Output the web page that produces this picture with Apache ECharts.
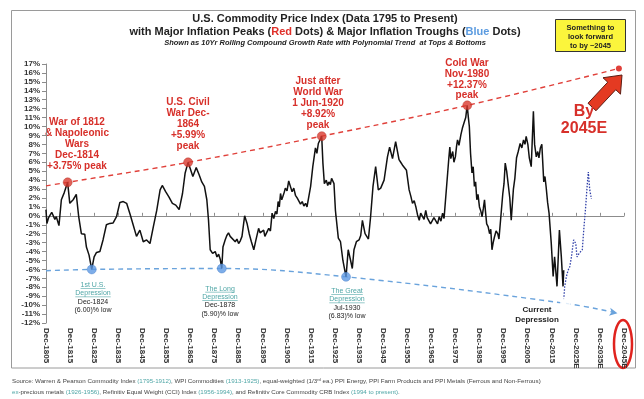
<!DOCTYPE html>
<html>
<head>
<meta charset="utf-8">
<script src="https://cdn.jsdelivr.net/npm/echarts@6/dist/echarts.min.js"></script>
<style>
  html, body { margin: 0; padding: 0; background: #fff; }
  #main { width: 644px; height: 399px; }
</style>
</head>
<body>
<div id="main"></div>
<script>
  // x positions are years; the axis counts from Dec-1805
  const BASE = 1805.92

  // 10yr rolling compound growth rate of the commodity index (%)
  const cagrYears = [
    1805.9, 1806.3, 1807.0, 1807.6, 1808.3, 1809.0, 1809.6, 1810.2, 1811.3, 1812.3,
    1813.5, 1814.9, 1815.8, 1816.5, 1817.2, 1818.5, 1819.5, 1820.6, 1821.3, 1822.0,
    1822.7, 1823.8, 1824.9, 1825.9, 1826.9, 1828.3, 1829.6, 1831.0, 1832.4, 1833.8,
    1835.2, 1836.6, 1837.3, 1838.0, 1839.4, 1840.8, 1842.1, 1843.5, 1844.9, 1846.3,
    1847.7, 1849.1, 1850.5, 1851.9, 1853.3, 1854.2, 1855.6, 1857.0, 1858.4, 1859.8,
    1861.2, 1862.6, 1863.7, 1864.9, 1865.8, 1866.9, 1868.3, 1869.5, 1870.6, 1871.7,
    1872.7, 1873.4, 1874.1, 1875.1, 1876.2, 1876.9, 1877.6, 1878.3, 1878.9, 1879.4,
    1880.3, 1881.0, 1881.7, 1882.4, 1883.1, 1884.5, 1885.2, 1885.9, 1886.6, 1887.3,
    1888.4, 1889.4, 1890.3, 1891.2, 1892.2, 1893.1, 1894.2, 1894.8, 1895.3, 1896.3,
    1896.8, 1897.3, 1898.4, 1899.1, 1899.8, 1900.5, 1901.2, 1901.8, 1902.3, 1902.8,
    1903.3, 1903.8, 1904.2, 1904.8, 1905.3, 1906.0, 1906.7, 1907.4, 1908.1, 1908.8,
    1909.5, 1910.2, 1910.9, 1911.6, 1912.3, 1913.0, 1913.7, 1914.3, 1914.8, 1915.8,
    1916.7, 1917.8, 1918.4, 1919.0, 1920.4, 1920.9, 1921.5, 1922.3, 1922.9, 1923.4,
    1924.0, 1924.5, 1925.5, 1926.1, 1927.3, 1928.2, 1929.2, 1930.5, 1931.4, 1932.4,
    1933.1, 1933.8, 1934.8, 1935.9, 1936.6, 1937.3, 1938.4, 1939.8, 1940.7, 1941.7,
    1942.8, 1943.9, 1944.9, 1946.3, 1947.7, 1948.6, 1949.8, 1951.1, 1952.5, 1953.2,
    1953.9, 1955.6, 1956.7, 1957.4, 1958.1, 1958.8, 1959.5, 1960.2, 1960.9, 1961.5,
    1962.3, 1962.9, 1963.6, 1964.2, 1965.0, 1965.6, 1966.4, 1967.0, 1967.8, 1968.5,
    1969.2, 1969.9, 1970.6, 1971.2, 1971.7, 1972.7, 1973.2, 1973.6, 1974.0, 1974.8,
    1975.3, 1975.9, 1976.4, 1976.8, 1977.4, 1978.2, 1978.8, 1979.6, 1980.2, 1980.8,
    1981.3, 1981.7, 1982.2, 1982.8, 1983.3, 1983.8, 1984.3, 1984.8, 1985.3, 1985.9,
    1986.5, 1987.0, 1987.5, 1988.0, 1988.4, 1988.9, 1989.5, 1990.1, 1990.6, 1991.1,
    1991.6, 1992.1, 1992.8, 1993.5, 1994.0, 1994.5, 1995.6, 1996.1, 1996.6, 1997.2,
    1997.8, 1998.5, 1999.1, 2000.0, 2000.6, 2001.3, 2002.0, 2002.8, 2003.5, 2004.2,
    2004.8, 2005.3, 2006.0, 2006.6, 2007.4, 2008.3, 2008.8, 2009.5, 2010.1, 2010.6,
    2011.2, 2011.8, 2012.6, 2013.1, 2013.6, 2014.2, 2014.8, 2015.7, 2016.5, 2017.1,
    2017.6, 2018.1, 2019.1, 2019.9, 2020.6, 2020.9
  ]
  const cagrValues = [
    0.7, -0.85, -0.2, -0.3, 0.4, 0.3, -0.4, -0.1, -1.1, 1.8,
    2.6, 3.75, 1.4, 1.2, 1.8, 2.4, -0.1, -2.0, -1.9, -2.05,
    -3.5, -4.4, -6.0, -4.6, -4.1, -4.0, -2.7, -1.0, -0.85, -0.8,
    -0.1, 1.5, 1.3, 1.6, 1.4, 0.2, -1.0, -2.3, -1.6, -2.9,
    -2.7, -3.1, -1.2, 0.6, 2.9, 3.4, 2.7, 2.1, 1.4, 1.2,
    0.7, 2.5, 4.8, 5.99, 5.3, 4.4, 5.4, 4.6, 3.8, 3.3,
    1.8, -0.5, -3.8, -4.2, -4.0, -4.6, -4.3, -4.9, -5.9, -3.5,
    -2.7, -2.2, -1.9, -2.3, -2.5, -2.9, -2.6, -3.1, -2.8, -2.3,
    0.0, -0.85, -2.0, -2.9, -3.8, -2.7, -1.4, -1.9, -2.0, -1.6,
    -2.3, -2.2, -1.4, -1.7, 0.3, -0.3, 0.5, 0.2, 1.6, 1.0,
    2.5, 1.8, 2.1, 2.6, 3.1, 2.8, 3.9, 3.3, 2.7, 3.1,
    2.3, 2.0, 1.8, 1.3, 1.6, 1.1, 1.4, 1.0, 1.2, 3.3,
    5.5, 7.6, 7.0, 8.1, 8.92, 5.9, 3.6, 4.0, 3.4, 3.8,
    3.5, 4.2, 3.6, 0.6, -2.5, -2.9, -5.0, -6.83, -3.8, -5.0,
    -5.9, -3.8, -2.9, -2.7, -2.2, -0.5, -2.0, -2.6, -0.1, 3.3,
    5.5, 2.9, 3.1, 4.0, 6.6, 7.7, 6.4, 8.3, 6.3, 6.0,
    5.7, 5.1, 2.9, 2.2, 1.4, 1.7, 1.0, 0.1, -0.5, 0.3,
    0.1, -0.4, 0.6, -0.2, -0.1, -0.9, -0.7, -0.2, -0.3, -0.9,
    -0.1, -0.6, 0.3, -0.3, -0.5, 4.8, 6.5, 7.7, 6.4, 7.2,
    6.0, 6.6, 7.8, 8.5, 7.9, 9.1, 9.8, 10.5, 11.0, 12.37,
    11.0, 10.0, 7.0, 4.8, 5.5, 3.3, 3.8, 1.8, 2.4, 1.0,
    0.5, -0.1, 0.8, 1.8, 0.5, -0.9, -1.2, -2.0, -1.5, -3.8,
    -3.0, -2.4, -1.7, -2.0, -2.6, -2.4, 2.5, 3.6, 5.9, 5.0,
    4.8, 2.0, -0.5, 3.0, 4.2, 6.5, 7.2, 8.1, 7.6, 8.5,
    8.0, 8.9, 8.0, 6.5, 5.5, 11.7, 8.0, 6.6, 7.2, 6.5,
    7.6, 8.0, 3.8, 4.4, 3.2, 1.5, 0.3, -3.0, -6.8, -4.6,
    -6.2, -7.9, -1.6, -4.6, -7.9, -6.1
  ]

  // projected path (blue dotted)
  const forecastYears = [
    2020.9, 2021.3, 2022.0, 2022.7, 2023.4, 2024.1, 2025.0, 2025.9, 2026.4, 2027.3,
    2028.6, 2029.2, 2030.0, 2030.6, 2031.1, 2031.7, 2032.4
  ]
  const forecastValues = [
    -9.4, -7.9, -6.8, -6.1, -5.7, -4.6, -2.7, -3.1, -4.6, -4.2,
    -3.8, -1.6, 1.0, 3.3, 4.9, 2.9, 1.9
  ]

  // major inflation peaks (red) and troughs (blue)
  const peakYears = [1814.92, 1864.92, 1920.42, 1980.83]
  const peakValues = [3.75, 5.99, 8.92, 12.37]
  const troughYears = [1824.92, 1878.92, 1930.5]
  const troughValues = [-6.00, -5.90, -6.83]
  const currentTroughYear = [2021.6]
  const currentTroughValue = [-9.8]

  // polynomial trends through tops and bottoms
  const peakTrendYears = [1805.92, 1814.92, 1864.92, 1920.42, 1980.83, 2043.8]
  const peakTrendValues = [3.36, 3.75, 5.99, 8.92, 12.37, 16.5]
  const troughTrendYears = [1805.92, 1824.92, 1878.92, 1930.5, 2021.6, 2043.2]
  const troughTrendValues = [-6.15, -6.00, -5.90, -6.83, -9.8, -10.9]

  // axis range, ticks every 10 years from Dec-1805
  const yMin = -12
  const yMax = 17
  const xSpan = 240

  const pts = (xs, ys) => xs.map((x, i) => [x - BASE, ys[i]])

  const FONT = '"Liberation Sans", Arial, sans-serif'
  const RED = '#d7302a'
  const TEAL = '#4fa6a6'

  const measure = document.createElement('canvas').getContext('2d')
  function textWidth (str, font) {
    measure.font = font
    return measure.measureText(str).width
  }

  function lines (x, y0, lh, rows, size, weight, fill, align) {
    return rows.map((t, i) => ({
      type: 'text',
      silent: true,
      style: {
        text: t, x: x, y: y0 + i * lh,
        font: weight + ' ' + size + 'px ' + FONT,
        fill: fill,
        align: align || 'center', textAlign: align || 'center',
        verticalAlign: 'middle', textVerticalAlign: 'middle'
      }
    }))
  }

  function underlined (x, y0, lh, rows, size) {
    const out = lines(x, y0, lh, rows, size, 'normal', TEAL)
    rows.forEach((t, i) => {
      const w = textWidth(t, 'normal ' + size + 'px ' + FONT)
      out.push({
        type: 'line', silent: true,
        shape: { x1: x - w / 2, y1: y0 + i * lh + size * 0.5, x2: x + w / 2, y2: y0 + i * lh + size * 0.5 },
        style: { stroke: TEAL, lineWidth: 0.6 }
      })
    })
    return out
  }

  function troughLabel (x, y0, name1, name2, date, low) {
    return underlined(x, y0, 8.3, [name1, name2], 7)
      .concat(lines(x, y0 + 16.6, 8.3, [date, low], 7, 'normal', '#222'))
  }

  function blockArrow (tail, tip, shaftHalf, headHalf, headLen) {
    const dx = tip[0] - tail[0], dy = tip[1] - tail[1]
    const len = Math.sqrt(dx * dx + dy * dy)
    const ux = dx / len, uy = dy / len
    const px = -uy, py = ux
    const nx = tip[0] - ux * headLen, ny = tip[1] - uy * headLen
    return [
      [tail[0] + px * shaftHalf, tail[1] + py * shaftHalf],
      [nx + px * shaftHalf, ny + py * shaftHalf],
      [nx + px * headHalf, ny + py * headHalf],
      tip,
      [nx - px * headHalf, ny - py * headHalf],
      [nx - px * shaftHalf, ny - py * shaftHalf],
      [tail[0] - px * shaftHalf, tail[1] - py * shaftHalf]
    ]
  }

  const srcFont = 'normal 6.2px ' + FONT
  const srcRich = {
    n: { fill: '#444', font: srcFont },
    l: { fill: TEAL, font: srcFont },
    s: { fill: '#444', font: 'normal 4px ' + FONT, verticalAlign: 'top' }
  }

  const graphics = [
    {
      type: 'rect', silent: true, z: -10,
      shape: { x: 11.5, y: 10.5, width: 624, height: 357.5 },
      style: { fill: 'none', stroke: '#9a9a9a', lineWidth: 1 }
    },
    ...lines(325, 19, 13, ['U.S. Commodity Price Index (Data 1795 to Present)'], 11, 'bold', '#222'),
    {
      type: 'text', silent: true,
      style: {
        text: '{n|with Major Inflation Peaks (}{r|Red}{n| Dots) & Major Inflation Troughs (}{b|Blue}{n| Dots)}',
        x: 325, y: 32, align: 'center', textAlign: 'center', verticalAlign: 'middle', textVerticalAlign: 'middle',
        font: 'bold 11px ' + FONT,
        rich: {
          n: { fill: '#222', font: 'bold 11px ' + FONT },
          r: { fill: '#e0302a', font: 'bold 11px ' + FONT },
          b: { fill: '#5b9be0', font: 'bold 11px ' + FONT }
        }
      }
    },
    ...lines(325, 43, 10, ['Shown as 10Yr Rolling Compound Growth Rate with Polynomial Trend  at Tops & Bottoms'], 7.5, 'italic bold', '#222'),
    {
      type: 'rect', silent: true,
      shape: { x: 555.5, y: 19.5, width: 70, height: 32 },
      style: { fill: '#fbf53c', stroke: '#333', lineWidth: 1 }
    },
    ...lines(590.5, 27.5, 9, ['Something to', 'look forward', 'to by ~2045'], 7.5, 'bold', '#222'),
    {
      type: 'polygon', silent: true,
      shape: { points: blockArrow([592, 107], [622, 75], 5.5, 12, 15) },
      style: { fill: '#e43a22', stroke: '#5a1d14', lineWidth: 1 }
    },
    ...lines(584, 112, 17, ['By', '2045E'], 16, 'bold', RED),
    {
      type: 'ellipse', silent: true,
      shape: { cx: 623, cy: 344, rx: 9, ry: 24 },
      style: { fill: 'none', stroke: '#e0231e', lineWidth: 2.5 }
    },
    ...lines(77, 122.7, 10.8, ['War of 1812', '& Napoleonic', 'Wars', 'Dec-1814', '+3.75% peak'], 10, 'bold', RED),
    ...lines(188, 102.7, 10.8, ['U.S. Civil', 'War Dec-', '1864', '+5.99%', 'peak'], 10, 'bold', RED),
    ...lines(318, 81.7, 10.8, ['Just after', 'World War', '1 Jun-1920', '+8.92%', 'peak'], 10, 'bold', RED),
    ...lines(467, 63.3, 10.8, ['Cold War', 'Nov-1980', '+12.37%', 'peak'], 10, 'bold', RED),
    ...troughLabel(93, 285, '1st U.S.', 'Depression', 'Dec-1824', '(6.00)% low'),
    ...troughLabel(220, 288.7, 'The Long', 'Depression', 'Dec-1878', '(5.90)% low'),
    ...troughLabel(347, 291, 'The Great', 'Depression', 'Jul-1930', '(6.83)% low'),
    ...lines(537, 310, 9.3, ['Current', 'Depression'], 8, 'bold', '#222'),
    {
      type: 'text', silent: true,
      style: {
        x: 12, y: 381, align: 'left', textAlign: 'left', verticalAlign: 'middle', textVerticalAlign: 'middle',
        font: srcFont,
        text: '{n|Source: Warren & Pearson Commodity Index }{l|(1795-1912)}{n|, WPI Commodities }{l|(1913-1925)}' +
          '{n|, equal-weighted (1/3}{s|rd}{n| ea.) PPI Energy, PPI Farm Products and PPI Metals (Ferrous and Non-Ferrous)}',
        rich: srcRich
      }
    },
    {
      type: 'text', silent: true,
      style: {
        x: 12, y: 392, align: 'left', textAlign: 'left', verticalAlign: 'middle', textVerticalAlign: 'middle',
        font: srcFont,
        text: '{l|ex}{n|-precious metals }{l|(1926-1956)}{n|, Refinitiv Equal Weight (CCI) Index }{l|(1956-1994)}' +
          '{n|, and Refinitiv Core Commodity CRB Index }{l|(1994 to present)}{n|.}',
        rich: srcRich
      }
    }
  ]

  const chart = echarts.init(document.getElementById('main'), null, { renderer: 'canvas' })
  window.addEventListener('resize', function () {
    chart.resize()
  })

  const troughTrend = pts(troughTrendYears, troughTrendValues).map((p, i, arr) =>
    i === arr.length - 1
      ? { value: p, symbol: 'arrow', symbolSize: [6, 8], symbolRotate: -100 }
      : { value: p, symbol: 'none' })
  const peakTrend = pts(peakTrendYears, peakTrendValues).map((p, i, arr) =>
    i === arr.length - 1
      ? { value: p, symbol: 'circle', symbolSize: 6 }
      : { value: p, symbol: 'none' })

  const option = {
    animation: false,
    backgroundColor: '#fff',
    grid: { left: 46, right: 20, top: 64, bottom: 76, containLabel: false },
    xAxis: [
      {
        type: 'value', min: 0, max: xSpan, interval: 10,
        axisLine: { show: false, onZero: false },
        axisTick: { show: false },
        splitLine: { show: false },
        axisLabel: {
          rotate: -90, margin: 5,
          fontFamily: FONT, fontSize: 8, fontWeight: 'bold', color: '#333',
          formatter: function (v) {
            const yr = 1805 + v
            return 'Dec-' + yr + (yr > 2020 ? 'E' : '')
          }
        }
      },
      {
        type: 'value', min: 0, max: xSpan, interval: 10,
        axisLine: { show: true, onZero: true, lineStyle: { color: '#8c8c8c', width: 1 } },
        axisTick: { show: true, length: 3, lineStyle: { color: '#8c8c8c' } },
        axisLabel: { show: false },
        splitLine: { show: false }
      }
    ],
    yAxis: {
      type: 'value', min: yMin, max: yMax, interval: 1,
      axisLine: { show: true, lineStyle: { color: '#8c8c8c' } },
      axisTick: { show: true, length: 4, lineStyle: { color: '#8c8c8c' } },
      splitLine: { show: false },
      axisLabel: {
        margin: 6, fontFamily: FONT, fontSize: 8, fontWeight: 'bold', color: '#333',
        formatter: '{value}%'
      }
    },
    series: [
      {
        name: 'Peak trend', type: 'line', smooth: 0.4, z: 2,
        data: peakTrend,
        showSymbol: true,
        itemStyle: { color: '#e0403a' },
        lineStyle: { color: '#e0403a', width: 1.4, type: [5, 4] }
      },
      {
        name: 'Trough trend', type: 'line', smooth: 0.4, z: 2,
        data: troughTrend,
        showSymbol: true,
        itemStyle: { color: '#6aa3dc' },
        lineStyle: { color: '#6aa3dc', width: 1.4, type: [5, 4] }
      },
      {
        name: '10Yr CAGR', type: 'line', z: 3,
        data: pts(cagrYears, cagrValues),
        symbol: 'none',
        lineStyle: { color: '#111', width: 1.5 }
      },
      {
        name: 'Projection', type: 'line', z: 3,
        data: pts(forecastYears, forecastValues),
        symbol: 'none',
        lineStyle: { color: '#2f3fa8', width: 1.3, type: [1.5, 1.5] }
      },
      {
        name: 'Peaks', type: 'scatter', z: 5,
        data: pts(peakYears, peakValues),
        symbolSize: 9,
        itemStyle: { color: '#d93a2e', borderColor: '#b02a20', borderWidth: 0.5 }
      },
      {
        name: 'Troughs', type: 'scatter', z: 5,
        data: pts(troughYears, troughValues),
        symbolSize: 9,
        itemStyle: { color: '#5d98e3', borderColor: '#3f78c6', borderWidth: 0.5 }
      },
      {
        name: 'Current trough', type: 'scatter', z: 5,
        data: pts(currentTroughYear, currentTroughValue),
        symbol: 'emptyCircle', symbolSize: 9,
        itemStyle: { color: '#fff', borderColor: '#4f8ee0', borderWidth: 1.5 }
      }
    ],
    graphic: graphics
  }

  chart.setOption(option)
</script>
</body>
</html>
